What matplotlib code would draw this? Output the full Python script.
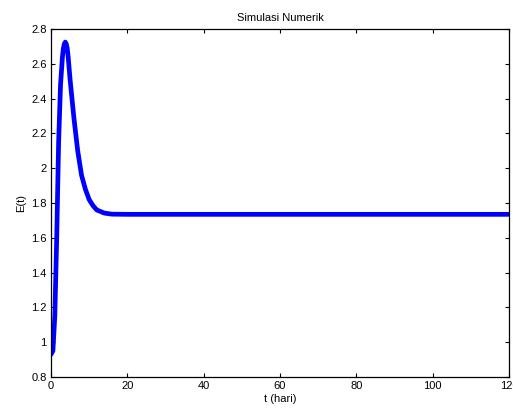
import numpy as np
import matplotlib
matplotlib.use("Agg")
import matplotlib.pyplot as plt

# Numerical simulation result E(t), sampled over days
t_days = [0, 0.5, 1.0, 1.5, 2.0, 2.5, 3.0, 3.25, 3.5, 3.75, 4.0, 4.25, 4.5, 5.0,
          6.0, 7.0, 8.0, 9.0, 10.0, 11.0, 12.0, 14.0, 16.0, 20.0, 40.0, 60.0,
          80.0, 100.0, 120.0]
e_values = [0.93, 0.95, 1.15, 1.60, 2.15, 2.48, 2.64, 2.69, 2.715, 2.725, 2.715,
            2.69, 2.64, 2.51, 2.29, 2.10, 1.96, 1.88, 1.82, 1.785, 1.76, 1.742,
            1.736, 1.735, 1.735, 1.735, 1.735, 1.735, 1.735]

x_ticks = [0, 20, 40, 60, 80, 100, 120]
y_ticks = [0.8, 1.0, 1.2, 1.4, 1.6, 1.8, 2.0, 2.2, 2.4, 2.6, 2.8]
y_tick_labels = ["0.8", "1", "1.2", "1.4", "1.6", "1.8", "2", "2.2", "2.4", "2.6", "2.8"]

plt.rcParams["font.family"] = ["Liberation Sans", "DejaVu Sans"]

fig = plt.figure(figsize=(5.13, 4.09), dpi=100)
ax = fig.add_axes([0.0994, 0.0782, 0.8928, 0.8508])

ax.plot(t_days, e_values, color="#0000ff", linewidth=3.4, solid_capstyle="round",
        solid_joinstyle="round")

ax.set_xlim(0, 120)
ax.set_ylim(0.8, 2.8)
ax.set_xticks(x_ticks)
ax.set_yticks(y_ticks)
ax.set_yticklabels(y_tick_labels)
ax.tick_params(direction="in", length=3, width=0.8, labelsize=8,
               top=True, right=True, pad=3)
for s in ax.spines.values():
    s.set_linewidth(0.9)

ax.set_title("Simulasi Numerik", fontsize=8, pad=6)
ax.set_xlabel("t (hari)", fontsize=8, labelpad=2)
ax.set_ylabel("E(t)", fontsize=8, labelpad=4)

fig.savefig("out.png", dpi=100)
